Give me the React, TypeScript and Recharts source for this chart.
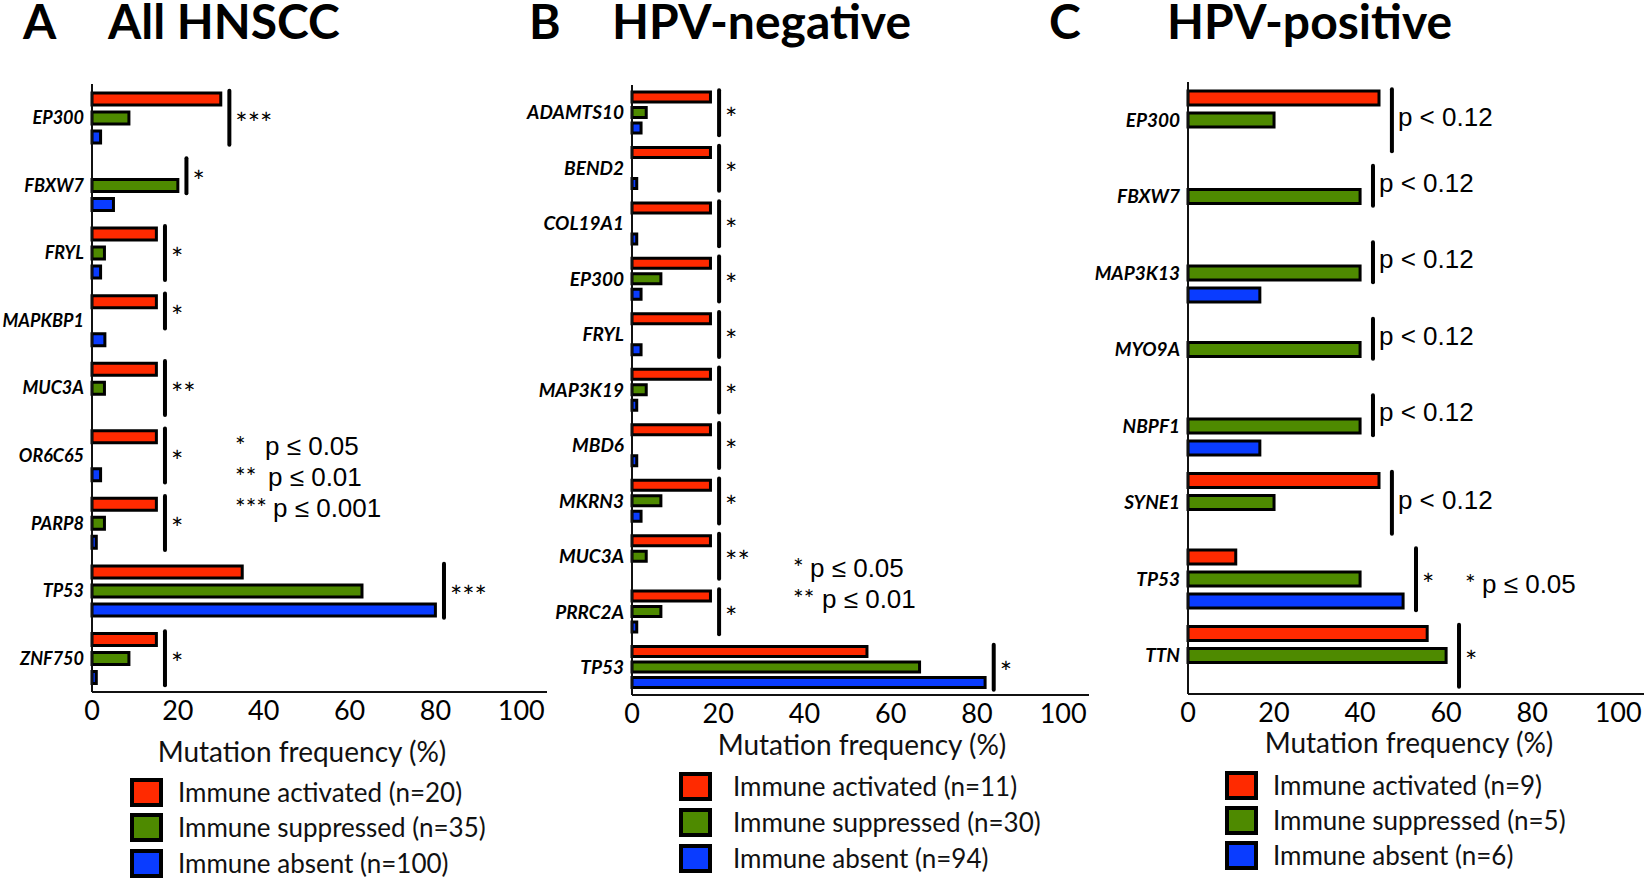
import React from "react";
import { BarChart, Bar, XAxis, YAxis, ReferenceArea } from "recharts";

const RED = "#ff2a00";
const GREEN = "#4e8a00";
const BLUE = "#0a3cff";

// A: all HNSCC
const genesA = ["EP300", "FBXW7", "FRYL", "MAPKBP1", "MUC3A", "OR6C65", "PARP8", "TP53", "ZNF750"];
const activatedA = [30, 0, 15, 15, 15, 15, 15, 35, 15];
const suppressedA = [8.6, 20, 2.9, 0, 2.9, 0, 2.9, 62.9, 8.6];
const absentA = [2, 5, 2, 3, 0, 2, 1, 80, 1];
const sigA = ["***", "*", "*", "*", "**", "*", "*", "***", "*"];
const spanA = [3, 2, 3, 2, 3, 3, 3, 3, 3];
const seriesA = ["Immune activated (n=20)", "Immune suppressed (n=35)", "Immune absent (n=100)"];

// B: HPV-negative
const genesB = ["ADAMTS10", "BEND2", "COL19A1", "EP300", "FRYL", "MAP3K19", "MBD6", "MKRN3", "MUC3A", "PRRC2A", "TP53"];
const activatedB = [18.2, 18.2, 18.2, 18.2, 18.2, 18.2, 18.2, 18.2, 18.2, 18.2, 54.5];
const suppressedB = [3.3, 0, 0, 6.7, 0, 3.3, 0, 6.7, 3.3, 6.7, 66.7];
const absentB = [2.1, 1.1, 1.1, 2.1, 2.1, 1.1, 1.1, 2.1, 0, 1.1, 81.9];
const sigB = ["*", "*", "*", "*", "*", "*", "*", "*", "**", "*", "*"];
const spanB = [3, 3, 3, 3, 3, 3, 3, 3, 3, 3, 3];
const seriesB = ["Immune activated (n=11)", "Immune suppressed (n=30)", "Immune absent (n=94)"];

// C: HPV-positive
const genesC = ["EP300", "FBXW7", "MAP3K13", "MYO9A", "NBPF1", "SYNE1", "TP53", "TTN"];
const activatedC = [44.4, 0, 0, 0, 0, 44.4, 11.1, 55.6];
const suppressedC = [20, 40, 40, 40, 40, 20, 40, 60];
const absentC = [0, 0, 16.7, 0, 16.7, 0, 50, 0];
const sigC = ["p < 0.12", "p < 0.12", "p < 0.12", "p < 0.12", "p < 0.12", "p < 0.12", "*", "*"];
const spanC = [3, 2, 2, 2, 2, 3, 3, 3];
const seriesC = ["Immune activated (n=9)", "Immune suppressed (n=5)", "Immune absent (n=6)"];

const xTicks = [0, 20, 40, 60, 80, 100];
const colors = [RED, GREEN, BLUE];

type Row = {
  gene: string;
  activated: number;
  suppressed: number;
  absent: number;
  sig: string;
  span: number;
};

function buildRows(genes: string[], act: number[], sup: number[], abs: number[], sig: string[], span: number[]): Row[] {
  return genes.map((g, i) => ({
    gene: g,
    activated: act[i],
    suppressed: sup[i],
    absent: abs[i],
    sig: sig[i],
    span: span[i],
  }));
}

const rowsA = buildRows(genesA, activatedA, suppressedA, absentA, sigA, spanA);
const rowsB = buildRows(genesB, activatedB, suppressedB, absentB, sigB, spanB);
const rowsC = buildRows(genesC, activatedC, suppressedC, absentC, sigC, spanC);

// significance bracket, drawn in the band of one gene
function Bracket(props: any) {
  const { x, y, height, row, barSize, barGap } = props;
  const groupH = 3 * barSize + 2 * barGap;
  const pitch = barSize + barGap;
  const top = y + (height - groupH) / 2 - 2;
  const bottom = top + 4 + row.span * pitch - barGap;
  const mid = (top + bottom) / 2;
  const isP = row.sig.startsWith("p");
  return (
    <g>
      <line x1={x} x2={x} y1={top} y2={bottom} stroke="#000" strokeWidth={4} strokeLinecap="round" />
      <text
        x={x + 6}
        y={isP ? mid + 6 : mid + 16}
        fontSize={isP ? 26 : 29}
        fontFamily={isP ? "Liberation Sans, Arial" : "Lato"}
        fill="#000"
      >
        {row.sig}
      </text>
    </g>
  );
}

interface PanelProps {
  rows: Row[];
  names: string[];
  left: number;
  width: number;
  top: number;
  bottom: number;
  yWidth: number;
  barSize: number;
  barGap: number;
  labelSize: number;
  bracketPad: number;
}

function Panel({ rows, names, left, width, top, bottom, yWidth, barSize, barGap, labelSize, bracketPad }: PanelProps) {
  const h = 880;
  return (
    <div style={{ position: "absolute", left, top: 0 }}>
      <BarChart
        width={width}
        height={h}
        data={rows}
        layout="vertical"
        barGap={barGap}
        margin={{ top, right: 2, bottom: h - bottom - 60, left: 4 }}
      >
        <XAxis
          type="number"
          domain={[0, 106]}
          ticks={xTicks}
          interval={0}
          height={60}
          tickLine={false}
          tickMargin={3}
          axisLine={{ stroke: "#111", strokeWidth: 2 }}
          tick={{ fill: "#000", fontSize: 27, fontFamily: "Lato" }}
        />
        <YAxis
          type="category"
          dataKey="gene"
          width={yWidth}
          interval={0}
          tickLine={false}
          axisLine={{ stroke: "#111", strokeWidth: 2 }}
          tick={{ fill: "#000", fontSize: labelSize, fontFamily: "Lato", fontWeight: 700, fontStyle: "italic" }}
        />
        <Bar dataKey="activated" name={names[0]} fill={RED} stroke="#000" strokeWidth={3} barSize={barSize} isAnimationActive={false} />
        <Bar dataKey="suppressed" name={names[1]} fill={GREEN} stroke="#000" strokeWidth={3} barSize={barSize} isAnimationActive={false} />
        <Bar dataKey="absent" name={names[2]} fill={BLUE} stroke="#000" strokeWidth={3} barSize={barSize} isAnimationActive={false} />
        {rows.map((r) => {
          const bx = Math.max(r.activated, r.suppressed, r.absent) + bracketPad;
          return (
            <ReferenceArea
              key={r.gene}
              x1={bx}
              x2={bx}
              y1={r.gene}
              y2={r.gene}
              ifOverflow="visible"
              shape={(p: any) => <Bracket {...p} row={r} barSize={barSize} barGap={barGap} />}
            />
          );
        })}
      </BarChart>
    </div>
  );
}

function Legend({ names, boxX, textX, rows }: { names: string[]; boxX: number; textX: number; rows: number[] }) {
  return (
    <g>
      {names.map((n, i) => (
        <g key={n}>
          <rect x={boxX} y={rows[i] - 13} width={29} height={25} fill={colors[i]} stroke="#000" strokeWidth={4} />
          <text x={textX} y={rows[i] + 9} fontSize={26} fill="#111">
            {n}
          </text>
        </g>
      ))}
    </g>
  );
}

function PLegend({ items }: { items: { stars: string; sx: number; px: number; text: string; y: number }[] }) {
  return (
    <g>
      {items.map((it) => (
        <g key={it.text}>
          <text x={it.sx} y={it.y + 10} fontSize={25} fill="#000">
            {it.stars}
          </text>
          <text x={it.px} y={it.y + 9.5} fontSize={26} fontFamily="Liberation Sans, Arial" fill="#000">
            {it.text}
          </text>
        </g>
      ))}
    </g>
  );
}

export default function App() {
  return (
    <div style={{ position: "absolute", left: 0, top: 0, width: 1645, height: 880, background: "#fff", fontFamily: "Lato", overflow: "hidden" }}>
      <Panel rows={rowsA} names={seriesA} left={0} width={549} top={84} bottom={692} yWidth={88} barSize={12} barGap={7} labelSize={18} bracketPad={2} />
      <Panel rows={rowsB} names={seriesB} left={520} width={571} top={85} bottom={695} yWidth={108} barSize={10} barGap={5.5} labelSize={19} bracketPad={2} />
      <Panel rows={rowsC} names={seriesC} left={1080} width={566} top={82} bottom={694} yWidth={104} barSize={14} barGap={8} labelSize={19} bracketPad={3} />

      <svg width={1645} height={880} style={{ position: "absolute", left: 0, top: 0, pointerEvents: "none" }} fontFamily="Lato">
        <g fontWeight={700} fontSize={48} fill="#000">
          <text x={23} y={39}>A</text>
          <text x={108} y={39}>All HNSCC</text>
          <text x={529} y={39}>B</text>
          <text x={612} y={39}>HPV-negative</text>
          <text x={1049} y={39}>C</text>
          <text x={1167} y={39}>HPV-positive</text>
        </g>

        <g fontSize={28} fill="#111" textAnchor="middle">
          <text x={302} y={762}>Mutation frequency (%)</text>
          <text x={862} y={755}>Mutation frequency (%)</text>
          <text x={1409} y={753}>Mutation frequency (%)</text>
        </g>

        <PLegend
          items={[
            { stars: "*", sx: 235, px: 265, text: "p ≤ 0.05", y: 445 },
            { stars: "**", sx: 235, px: 268, text: "p ≤ 0.01", y: 476 },
            { stars: "***", sx: 235, px: 273, text: "p ≤ 0.001", y: 507 },
          ]}
        />
        <PLegend
          items={[
            { stars: "*", sx: 793, px: 810, text: "p ≤ 0.05", y: 567 },
            { stars: "**", sx: 793, px: 822, text: "p ≤ 0.01", y: 598 },
          ]}
        />
        <PLegend items={[{ stars: "*", sx: 1465, px: 1482, text: "p ≤ 0.05", y: 583 }]} />

        <Legend names={seriesA} boxX={132} textX={178} rows={[793, 828, 864]} />
        <Legend names={seriesB} boxX={681} textX={733} rows={[787, 823, 859]} />
        <Legend names={seriesC} boxX={1227} textX={1273} rows={[786, 821, 856]} />
      </svg>
    </div>
  );
}
